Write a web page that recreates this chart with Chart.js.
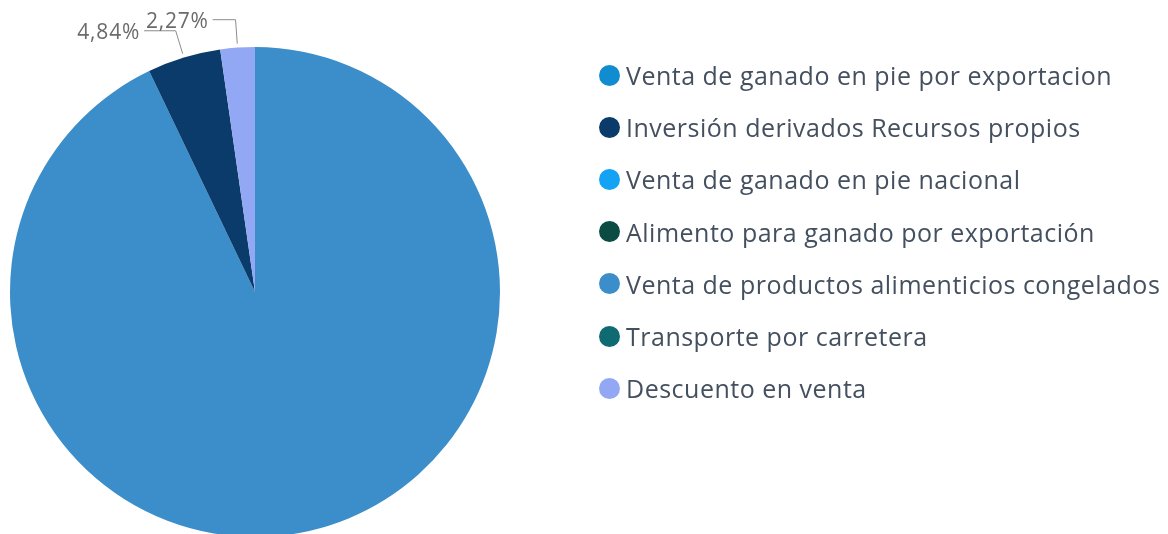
<!DOCTYPE html>
<html lang="es">
<head>
<meta charset="utf-8">
<title>Distribución de ingresos</title>
<script src="https://cdn.jsdelivr.net/npm/chart.js@4.4.1/dist/chart.umd.min.js"></script>
<style>
  html, body { margin: 0; padding: 0; background: #ffffff; overflow: hidden; }
  body { width: 1168px; height: 534px; position: relative; }
  #wrap { position: absolute; left: 0; top: 0; width: 1168px; height: 540px; }
  #legend {
    position: absolute; left: 599px; top: 49px; margin: 0; padding: 0; list-style: none;
    font-family: "Open Sans", "Noto Sans", sans-serif; font-size: 25px; letter-spacing: 0.5px; color: #44505f;
  }
  #legend li { display: flex; align-items: center; height: 52.2px; white-space: nowrap; }
  #legend .dot { width: 21px; height: 21px; border-radius: 50%; margin-right: 6px; flex: none; }
</style>
</head>
<body>
<div id="wrap"><canvas id="pie"></canvas></div>
<ul id="legend"></ul>
<script>
// Categories in legend order
const categories = [
  'Venta de ganado en pie por exportacion',
  'Inversión derivados Recursos propios',
  'Venta de ganado en pie nacional',
  'Alimento para ganado por exportación',
  'Venta de productos alimenticios congelados',
  'Transporte por carretera',
  'Descuento en venta'
];
// Share of total, in percent
const shares = [0, 4.84, 0, 0, 92.89, 0, 2.27];
const colors = ['#118CD0', '#0A3B6A', '#14A2F4', '#0A4C44', '#3C8ECA', '#0F6A72', '#92A8F4'];

// Slices are drawn largest first, clockwise from 12 o'clock
const order = categories.map((_, i) => i).sort((a, b) => shares[b] - shares[a]);

const fmtPct = v => v.toFixed(2).replace('.', ',') + '%';

// Outside labels with elbow leader lines; the horizontal run grows
// as the slice moves away from the vertical axis so labels fan out
const outsideLabels = {
  id: 'outsideLabels',
  afterDatasetsDraw(chart) {
    const ctx = chart.ctx;
    const meta = chart.getDatasetMeta(0);
    const values = chart.data.datasets[0].data;
    ctx.save();
    ctx.font = '21px "Open Sans", "Noto Sans", sans-serif';
    if ('letterSpacing' in ctx) ctx.letterSpacing = '0.8px';
    ctx.fillStyle = '#6b6b6b';
    ctx.strokeStyle = '#8c8c8c';
    ctx.lineWidth = 1;
    meta.data.forEach((arc, i) => {
      if (!values[i]) return;
      const { x, y, startAngle, endAngle, outerRadius } = arc.getProps(['x', 'y', 'startAngle', 'endAngle', 'outerRadius'], true);
      const mid = (startAngle + endAngle) / 2;
      const cos = Math.cos(mid), sin = Math.sin(mid);
      const p0 = { x: x + cos * (outerRadius + 4), y: y + sin * (outerRadius + 4) };
      const p1 = { x: x + cos * (outerRadius + 28), y: y + sin * (outerRadius + 28) };
      const dir = cos < 0 ? -1 : 1;
      const run = 20 + 40 * Math.abs(cos);
      const p2 = { x: p1.x + dir * run, y: p1.y };
      ctx.beginPath();
      ctx.moveTo(p0.x, p0.y);
      ctx.lineTo(p1.x, p1.y);
      ctx.lineTo(p2.x, p2.y);
      ctx.stroke();
      ctx.textAlign = dir < 0 ? 'right' : 'left';
      ctx.textBaseline = 'middle';
      ctx.fillText(fmtPct(values[i]), p2.x + dir * 4, p2.y + 2);
    });
    ctx.restore();
  }
};

new Chart(document.getElementById('pie'), {
  type: 'pie',
  data: {
    labels: order.map(i => categories[i]),
    datasets: [{
      data: order.map(i => shares[i]),
      backgroundColor: order.map(i => colors[i]),
      borderWidth: 0
    }]
  },
  options: {
    responsive: true,
    maintainAspectRatio: false,
    animation: false,
    layout: { padding: { left: 10, top: 47, right: 668, bottom: 3 } },
    plugins: { legend: { display: false }, tooltip: { enabled: false } }
  },
  plugins: [outsideLabels]
});

// Legend list in category order
const legend = document.getElementById('legend');
categories.forEach((name, i) => {
  const li = document.createElement('li');
  const dot = document.createElement('span');
  dot.className = 'dot';
  dot.style.background = colors[i];
  li.appendChild(dot);
  li.appendChild(document.createTextNode(name));
  legend.appendChild(li);
});
</script>
</body>
</html>
